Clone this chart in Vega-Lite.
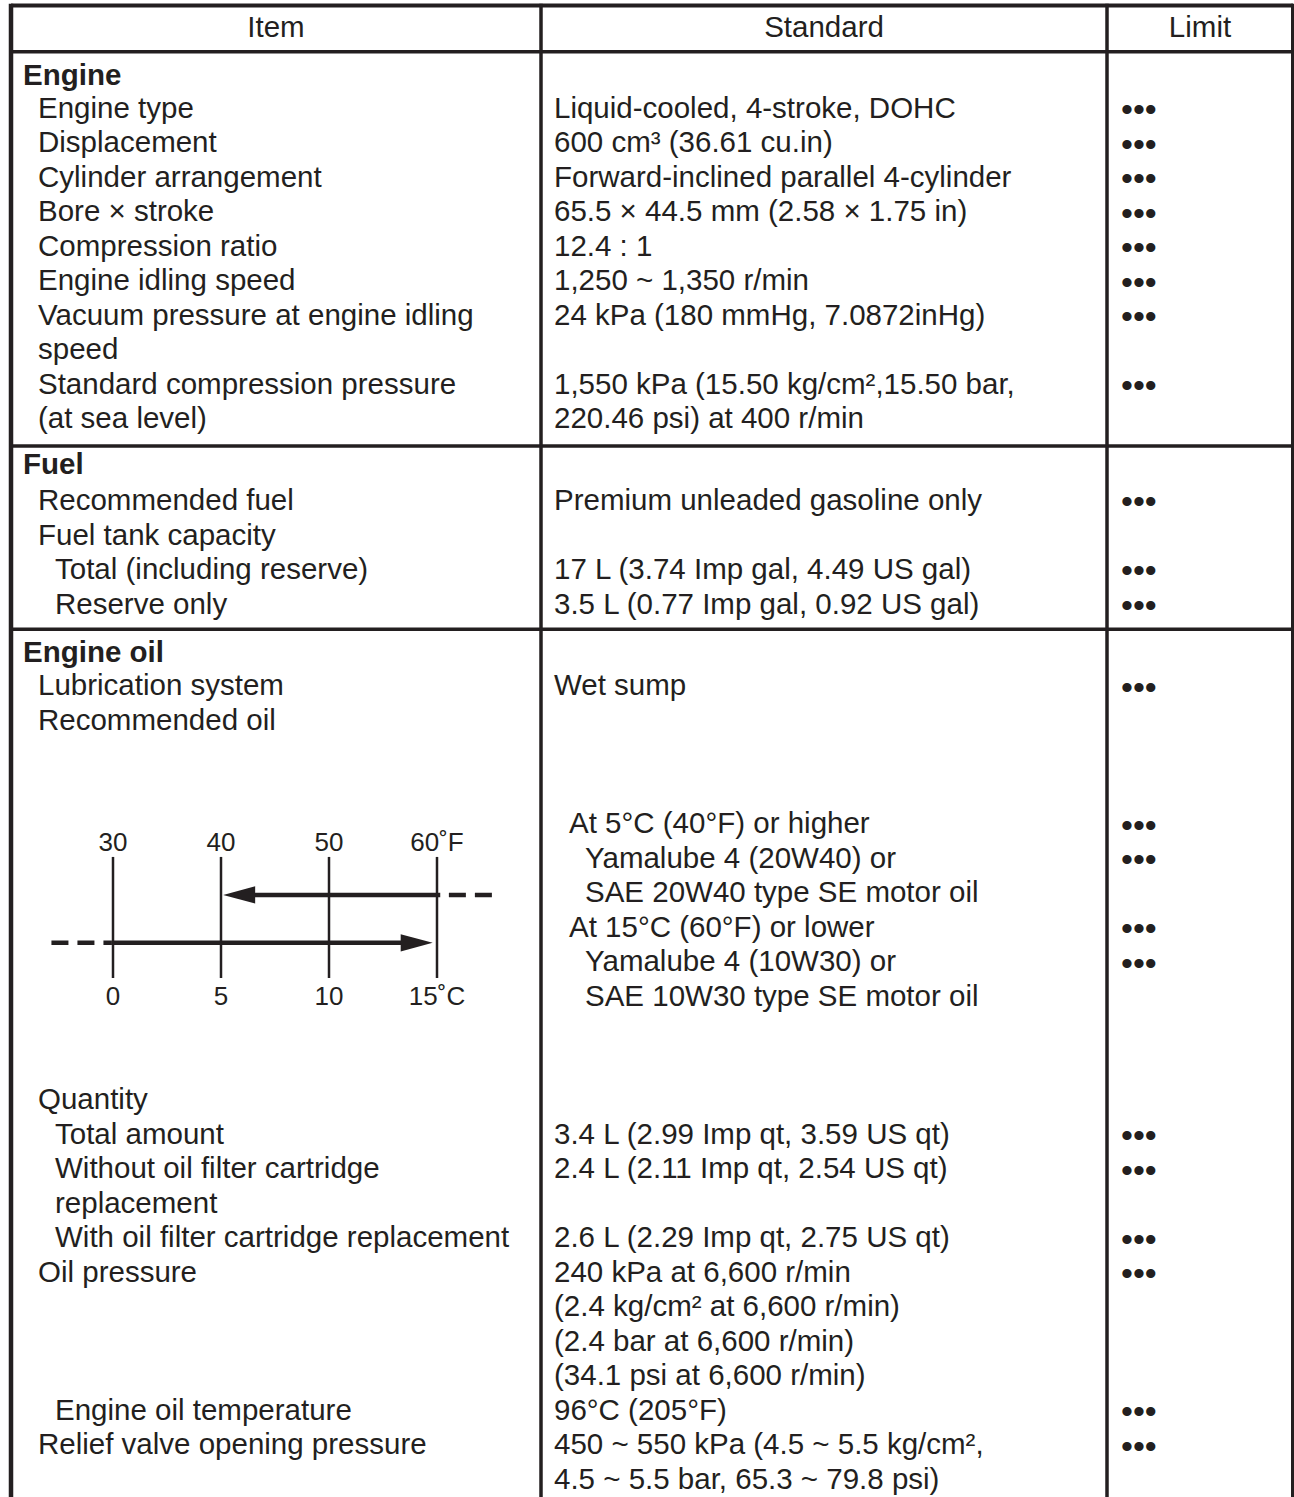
{
  "$schema": "https://vega.github.io/schema/vega-lite/v6.json",
  "width": 1294,
  "height": 1497,
  "padding": 0,
  "autosize": {"type": "none"},
  "background": "white",
  "config": {"view": {"stroke": null}},
  "datasets": {
    "cells": [
      {"kind": "head", "slot": 0, "line": -1.34, "text": "Item"},
      {"kind": "head", "slot": 1, "line": -1.34, "text": "Standard"},
      {"kind": "head", "slot": 2, "line": -1.34, "text": "Limit"},
      {"kind": "section", "slot": 0, "line": 0.05, "text": "Engine"},
      {"kind": "section", "slot": 0, "line": 11.32, "text": "Fuel"},
      {"kind": "section", "slot": 0, "line": 16.77, "text": "Engine oil"},
      {"kind": "text", "slot": 1, "line": 1, "text": "Engine type"},
      {"kind": "text", "slot": 3, "line": 1, "text": "Liquid-cooled, 4-stroke, DOHC"},
      {"kind": "text", "slot": 1, "line": 2, "text": "Displacement"},
      {"kind": "text", "slot": 3, "line": 2, "text": "600 cm³ (36.61 cu.in)"},
      {"kind": "text", "slot": 1, "line": 3, "text": "Cylinder arrangement"},
      {"kind": "text", "slot": 3, "line": 3, "text": "Forward-inclined parallel 4-cylinder"},
      {"kind": "text", "slot": 1, "line": 4, "text": "Bore × stroke"},
      {"kind": "text", "slot": 3, "line": 4, "text": "65.5 × 44.5 mm (2.58 × 1.75 in)"},
      {"kind": "text", "slot": 1, "line": 5, "text": "Compression ratio"},
      {"kind": "text", "slot": 3, "line": 5, "text": "12.4 : 1"},
      {"kind": "text", "slot": 1, "line": 6, "text": "Engine idling speed"},
      {"kind": "text", "slot": 3, "line": 6, "text": "1,250 ~ 1,350 r/min"},
      {"kind": "text", "slot": 1, "line": 7, "text": "Vacuum pressure at engine idling"},
      {"kind": "text", "slot": 3, "line": 7, "text": "24 kPa (180 mmHg, 7.0872inHg)"},
      {"kind": "text", "slot": 1, "line": 8, "text": "speed"},
      {"kind": "text", "slot": 1, "line": 9, "text": "Standard compression pressure"},
      {"kind": "text", "slot": 3, "line": 9, "text": "1,550 kPa (15.50 kg/cm²,15.50 bar,"},
      {"kind": "text", "slot": 1, "line": 10, "text": "(at sea level)"},
      {"kind": "text", "slot": 3, "line": 10, "text": "220.46 psi) at 400 r/min"},
      {"kind": "text", "slot": 1, "line": 12.36, "text": "Recommended fuel"},
      {"kind": "text", "slot": 3, "line": 12.36, "text": "Premium unleaded gasoline only"},
      {"kind": "text", "slot": 1, "line": 13.38, "text": "Fuel tank capacity"},
      {"kind": "text", "slot": 2, "line": 14.36, "text": "Total (including reserve)"},
      {"kind": "text", "slot": 3, "line": 14.36, "text": "17 L (3.74 Imp gal, 4.49 US gal)"},
      {"kind": "text", "slot": 2, "line": 15.38, "text": "Reserve only"},
      {"kind": "text", "slot": 3, "line": 15.38, "text": "3.5 L (0.77 Imp gal, 0.92 US gal)"},
      {"kind": "text", "slot": 1, "line": 17.75, "text": "Lubrication system"},
      {"kind": "text", "slot": 3, "line": 17.75, "text": "Wet sump"},
      {"kind": "text", "slot": 1, "line": 18.75, "text": "Recommended oil"},
      {"kind": "text", "slot": 4, "line": 21.75, "text": "At 5°C (40°F) or higher"},
      {"kind": "text", "slot": 5, "line": 22.75, "text": "Yamalube 4 (20W40) or"},
      {"kind": "text", "slot": 5, "line": 23.75, "text": "SAE 20W40 type SE motor oil"},
      {"kind": "text", "slot": 4, "line": 24.75, "text": "At 15°C (60°F) or lower"},
      {"kind": "text", "slot": 5, "line": 25.75, "text": "Yamalube 4 (10W30) or"},
      {"kind": "text", "slot": 5, "line": 26.75, "text": "SAE 10W30 type SE motor oil"},
      {"kind": "text", "slot": 1, "line": 29.75, "text": "Quantity"},
      {"kind": "text", "slot": 2, "line": 30.75, "text": "Total amount"},
      {"kind": "text", "slot": 3, "line": 30.75, "text": "3.4 L (2.99 Imp qt, 3.59 US qt)"},
      {"kind": "text", "slot": 2, "line": 31.75, "text": "Without oil filter cartridge"},
      {"kind": "text", "slot": 3, "line": 31.75, "text": "2.4 L (2.11 Imp qt, 2.54 US qt)"},
      {"kind": "text", "slot": 2, "line": 32.75, "text": "replacement"},
      {"kind": "text", "slot": 2, "line": 33.75, "text": "With oil filter cartridge replacement"},
      {"kind": "text", "slot": 3, "line": 33.75, "text": "2.6 L (2.29 Imp qt, 2.75 US qt)"},
      {"kind": "text", "slot": 1, "line": 34.75, "text": "Oil pressure"},
      {"kind": "text", "slot": 3, "line": 34.75, "text": "240 kPa at 6,600 r/min"},
      {"kind": "text", "slot": 3, "line": 35.75, "text": "(2.4 kg/cm² at 6,600 r/min)"},
      {"kind": "text", "slot": 3, "line": 36.75, "text": "(2.4 bar at 6,600 r/min)"},
      {"kind": "text", "slot": 3, "line": 37.75, "text": "(34.1 psi at 6,600 r/min)"},
      {"kind": "text", "slot": 2, "line": 38.75, "text": "Engine oil temperature"},
      {"kind": "text", "slot": 3, "line": 38.75, "text": "96°C (205°F)"},
      {"kind": "text", "slot": 1, "line": 39.75, "text": "Relief valve opening pressure"},
      {"kind": "text", "slot": 3, "line": 39.75, "text": "450 ~ 550 kPa (4.5 ~ 5.5 kg/cm²,"},
      {"kind": "text", "slot": 3, "line": 40.75, "text": "4.5 ~ 5.5 bar, 65.3 ~ 79.8 psi)"},
      {"kind": "dots", "slot": 0, "line": 1, "text": "•••"},
      {"kind": "dots", "slot": 0, "line": 2, "text": "•••"},
      {"kind": "dots", "slot": 0, "line": 3, "text": "•••"},
      {"kind": "dots", "slot": 0, "line": 4, "text": "•••"},
      {"kind": "dots", "slot": 0, "line": 5, "text": "•••"},
      {"kind": "dots", "slot": 0, "line": 6, "text": "•••"},
      {"kind": "dots", "slot": 0, "line": 7, "text": "•••"},
      {"kind": "dots", "slot": 0, "line": 9, "text": "•••"},
      {"kind": "dots", "slot": 0, "line": 12.36, "text": "•••"},
      {"kind": "dots", "slot": 0, "line": 14.36, "text": "•••"},
      {"kind": "dots", "slot": 0, "line": 15.38, "text": "•••"},
      {"kind": "dots", "slot": 0, "line": 17.75, "text": "•••"},
      {"kind": "dots", "slot": 0, "line": 21.75, "text": "•••"},
      {"kind": "dots", "slot": 0, "line": 22.75, "text": "•••"},
      {"kind": "dots", "slot": 0, "line": 24.75, "text": "•••"},
      {"kind": "dots", "slot": 0, "line": 25.75, "text": "•••"},
      {"kind": "dots", "slot": 0, "line": 30.75, "text": "•••"},
      {"kind": "dots", "slot": 0, "line": 31.75, "text": "•••"},
      {"kind": "dots", "slot": 0, "line": 33.75, "text": "•••"},
      {"kind": "dots", "slot": 0, "line": 34.75, "text": "•••"},
      {"kind": "dots", "slot": 0, "line": 38.75, "text": "•••"},
      {"kind": "dots", "slot": 0, "line": 39.75, "text": "•••"}
    ],
    "grid": [
      {"a": 0, "b": 3, "top": -2.25, "bottom": -2.25, "kind": "frame"},
      {"a": 0, "b": 3, "top": -0.91, "bottom": -0.91, "kind": "grid"},
      {"a": 0, "b": 3, "top": 10.52, "bottom": 10.52, "kind": "grid"},
      {"a": 0, "b": 3, "top": 15.83, "bottom": 15.83, "kind": "grid"},
      {"a": 0, "b": 0, "top": -2.3, "bottom": 41.0, "kind": "side"},
      {"a": 1, "b": 1, "top": -2.3, "bottom": 41.0, "kind": "grid"},
      {"a": 2, "b": 2, "top": -2.3, "bottom": 41.0, "kind": "grid"},
      {"a": 3, "b": 3, "top": -2.3, "bottom": 41.0, "kind": "frame"}
    ],
    "ticks": [
      {"degF": 30, "top": 22.43, "bottom": 25.94},
      {"degF": 40, "top": 22.43, "bottom": 25.94},
      {"degF": 50, "top": 22.43, "bottom": 25.94},
      {"degF": 60, "top": 22.43, "bottom": 25.94}
    ],
    "dlabels": [
      {"degF": 30, "line": 22.26, "text": "30"},
      {"degF": 40, "line": 22.26, "text": "40"},
      {"degF": 50, "line": 22.26, "text": "50"},
      {"degF": 60, "line": 22.26, "text": "60˚F"},
      {"degF": 30, "line": 26.72, "text": "0"},
      {"degF": 40, "line": 26.72, "text": "5"},
      {"degF": 50, "line": 26.72, "text": "10"},
      {"degF": 60, "line": 26.72, "text": "15˚C"}
    ],
    "arrows": [
      {"oil": "20W40", "line": 23.53, "solidFrom": 41.5, "solidTo": 60.3, "dashFrom": 61.1, "dashTo": 65.7, "tip": 40.2, "dir": "left"},
      {"oil": "10W30", "line": 24.92, "solidFrom": 30, "solidTo": 58.3, "dashFrom": 24.3, "dashTo": 29.9, "tip": 59.6, "dir": "right"}
    ]
  },
  "resolve": {"scale": {"x": "independent"}},
  "layer": [
    {
      "data": {"name": "grid"},
      "mark": {"type": "rule", "color": "#231f20", "strokeCap": "butt"},
      "encoding": {
        "x": {"field": "a", "type": "quantitative", "scale": {"domain": [0, 1, 2, 3], "range": [11, 541, 1107, 1293], "zero": false, "nice": false}, "axis": null},
        "x2": {"field": "b"},
        "y": {"field": "top", "type": "quantitative", "scale": {"domain": [1, 41], "range": [117.6, 1497.6], "zero": false, "nice": false}, "axis": null},
        "y2": {"field": "bottom"},
        "strokeWidth": {"field": "kind", "type": "nominal", "scale": {"domain": ["side", "frame", "grid"], "range": [4.5, 3.5, 2.5]}, "legend": null}
      }
    },
    {
      "data": {"name": "cells"},
      "transform": [{"filter": "datum.kind === 'head'"}],
      "mark": {"type": "text", "align": "center", "baseline": "alphabetic", "font": "Liberation Sans", "fontSize": 29.5, "color": "#231f20"},
      "encoding": {
        "x": {"field": "slot", "type": "quantitative", "scale": {"domain": [0, 1, 2], "range": [276, 824, 1200], "zero": false, "nice": false}, "axis": null},
        "y": {"field": "line", "type": "quantitative", "scale": {"domain": [1, 41], "range": [117.6, 1497.6], "zero": false, "nice": false}, "axis": null},
        "text": {"field": "text"}
      }
    },
    {
      "data": {"name": "cells"},
      "transform": [{"filter": "datum.kind === 'section'"}],
      "mark": {"type": "text", "align": "left", "baseline": "alphabetic", "font": "Liberation Sans", "fontWeight": "bold", "fontSize": 29.5, "color": "#231f20"},
      "encoding": {
        "x": {"field": "slot", "type": "quantitative", "scale": {"domain": [0, 1], "range": [23, 38], "zero": false, "nice": false}, "axis": null},
        "y": {"field": "line", "type": "quantitative", "scale": {"domain": [1, 41], "range": [117.6, 1497.6], "zero": false, "nice": false}, "axis": null},
        "text": {"field": "text"}
      }
    },
    {
      "data": {"name": "cells"},
      "transform": [{"filter": "datum.kind === 'text'"}],
      "mark": {"type": "text", "align": "left", "baseline": "alphabetic", "font": "Liberation Sans", "fontSize": 29.5, "color": "#231f20"},
      "encoding": {
        "x": {"field": "slot", "type": "quantitative", "scale": {"domain": [0, 1, 2, 3, 4, 5], "range": [23, 38, 55, 554, 569, 585], "zero": false, "nice": false}, "axis": null},
        "y": {"field": "line", "type": "quantitative", "scale": {"domain": [1, 41], "range": [117.6, 1497.6], "zero": false, "nice": false}, "axis": null},
        "text": {"field": "text"}
      }
    },
    {
      "data": {"name": "cells"},
      "transform": [{"filter": "datum.kind === 'dots'"}],
      "mark": {"type": "text", "align": "left", "baseline": "alphabetic", "font": "Liberation Sans", "fontSize": 34, "dy": 3.4, "color": "#231f20"},
      "encoding": {
        "x": {"field": "slot", "type": "quantitative", "scale": {"domain": [0, 1], "range": [1121, 1140], "zero": false, "nice": false}, "axis": null},
        "y": {"field": "line", "type": "quantitative", "scale": {"domain": [1, 41], "range": [117.6, 1497.6], "zero": false, "nice": false}, "axis": null},
        "text": {"field": "text"}
      }
    },
    {
      "data": {"name": "ticks"},
      "mark": {"type": "rule", "color": "#231f20", "strokeWidth": 2.5, "strokeCap": "butt"},
      "encoding": {
        "x": {"field": "degF", "type": "quantitative", "scale": {"domain": [30, 60], "range": [113, 437], "zero": false, "nice": false}, "axis": null},
        "y": {"field": "top", "type": "quantitative", "scale": {"domain": [1, 41], "range": [117.6, 1497.6], "zero": false, "nice": false}, "axis": null},
        "y2": {"field": "bottom"}
      }
    },
    {
      "data": {"name": "dlabels"},
      "mark": {"type": "text", "align": "center", "baseline": "alphabetic", "font": "Liberation Sans", "fontSize": 26, "color": "#231f20"},
      "encoding": {
        "x": {"field": "degF", "type": "quantitative", "scale": {"domain": [30, 60], "range": [113, 437], "zero": false, "nice": false}, "axis": null},
        "y": {"field": "line", "type": "quantitative", "scale": {"domain": [1, 41], "range": [117.6, 1497.6], "zero": false, "nice": false}, "axis": null},
        "text": {"field": "text"}
      }
    },
    {
      "data": {"name": "arrows"},
      "mark": {"type": "rule", "color": "#231f20", "strokeWidth": 4.5, "strokeCap": "butt"},
      "encoding": {
        "x": {"field": "solidFrom", "type": "quantitative", "scale": {"domain": [30, 60], "range": [113, 437], "zero": false, "nice": false}, "axis": null},
        "x2": {"field": "solidTo"},
        "y": {"field": "line", "type": "quantitative", "scale": {"domain": [1, 41], "range": [117.6, 1497.6], "zero": false, "nice": false}, "axis": null}
      }
    },
    {
      "data": {"name": "arrows"},
      "mark": {"type": "rule", "color": "#231f20", "strokeWidth": 4.5, "strokeCap": "butt", "strokeDash": [17, 9]},
      "encoding": {
        "x": {"field": "dashFrom", "type": "quantitative", "scale": {"domain": [30, 60], "range": [113, 437], "zero": false, "nice": false}, "axis": null},
        "x2": {"field": "dashTo"},
        "y": {"field": "line", "type": "quantitative", "scale": {"domain": [1, 41], "range": [117.6, 1497.6], "zero": false, "nice": false}, "axis": null}
      }
    },
    {
      "data": {"name": "arrows"},
      "mark": {"type": "point", "filled": true, "opacity": 1, "color": "#231f20", "strokeWidth": 0, "size": 4096},
      "encoding": {
        "x": {"field": "tip", "type": "quantitative", "scale": {"domain": [30, 60], "range": [113, 437], "zero": false, "nice": false}, "axis": null},
        "y": {"field": "line", "type": "quantitative", "scale": {"domain": [1, 41], "range": [117.6, 1497.6], "zero": false, "nice": false}, "axis": null},
        "shape": {"field": "dir", "type": "nominal", "scale": {"domain": ["left", "right"], "range": ["M0,0L1,-0.27L1,0.27Z", "M0,0L-1,-0.27L-1,0.27Z"]}, "legend": null}
      }
    }
  ]
}
